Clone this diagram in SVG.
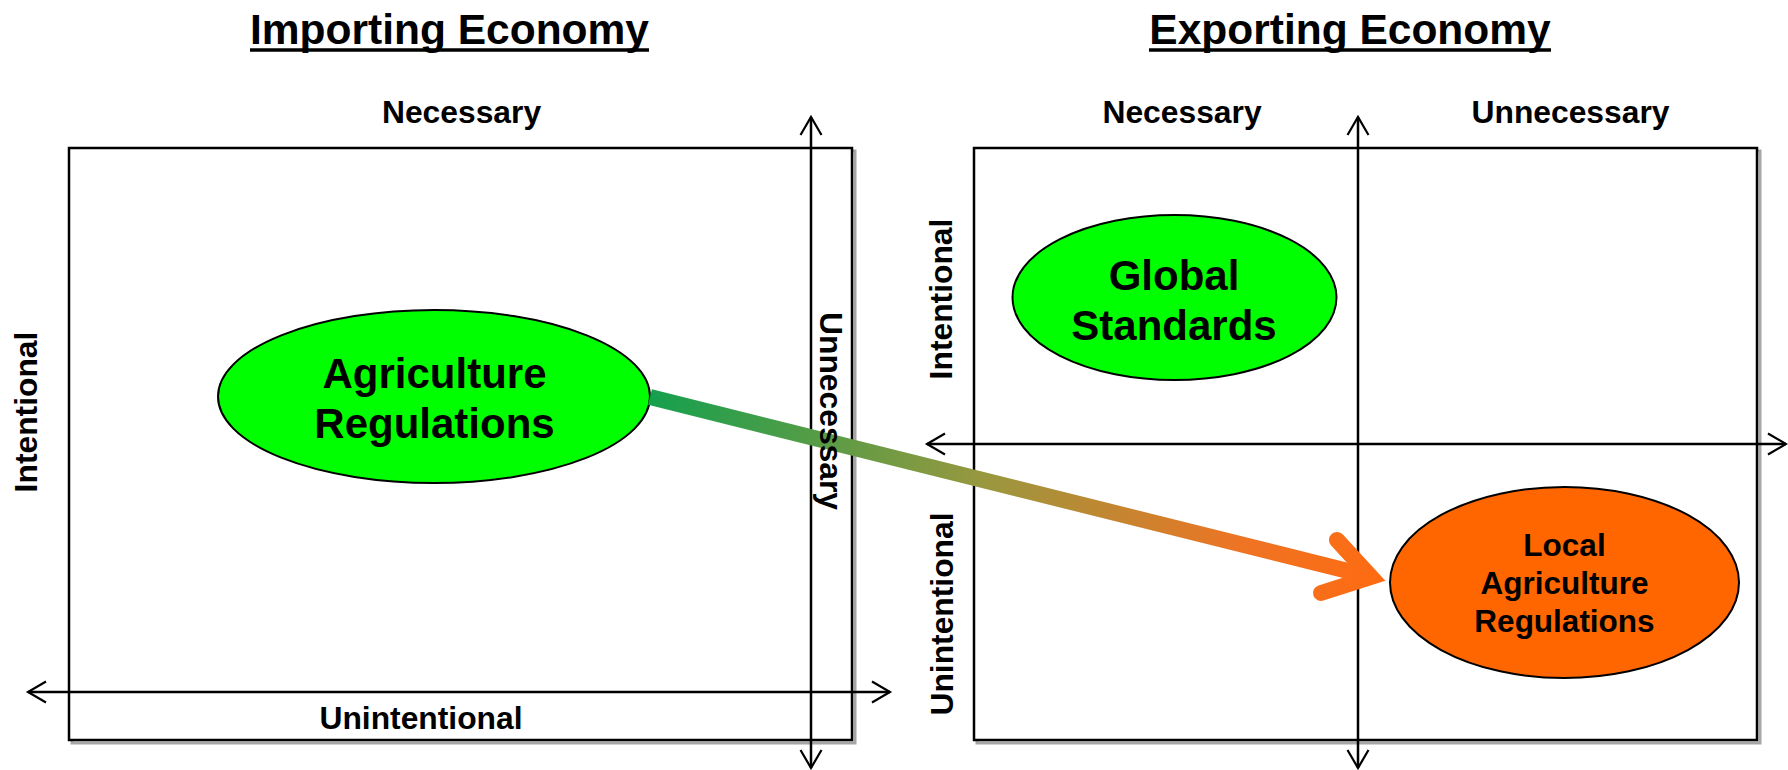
<svg xmlns="http://www.w3.org/2000/svg" width="1788" height="770" viewBox="0 0 1788 770">
<style>
  text { font-family: "Liberation Sans", Arial, sans-serif; font-weight: bold; fill: #000; }
  .title { font-size: 42.5px; }
  .uline { stroke: #000; stroke-width: 3.5; }
  .lab { font-size: 31.8px; }
  .big { font-size: 42px; }
  .small { font-size: 31.5px; }
  .frame { fill: #fff; stroke: #000; stroke-width: 2.5; }
  .shadow { fill: none; stroke: #a6a6a6; stroke-width: 3; }
  .axis { fill: none; stroke: #000; stroke-width: 2.5; marker-start: url(#ah); marker-end: url(#ah); }
  .node { stroke: #000; stroke-width: 2; }
</style>
<defs>
  <marker id="ah" markerUnits="userSpaceOnUse" markerWidth="26" markerHeight="26" refX="21" refY="13" orient="auto-start-reverse" overflow="visible">
    <path d="M3,2.5 L21,13 L3,23.5" fill="none" stroke="#000" stroke-width="2.2"/>
  </marker>
  <linearGradient id="gArrow" gradientUnits="userSpaceOnUse" x1="650" y1="397" x2="1389" y2="581">
    <stop offset="0" stop-color="#15a04e"/>
    <stop offset="0.45" stop-color="#98983f"/>
    <stop offset="0.8" stop-color="#ee7424"/>
    <stop offset="1" stop-color="#ff6a10"/>
  </linearGradient>
</defs>
<rect width="1788" height="770" fill="#fff"/>

<g id="title-importing">
  <text class="title" x="449.5" y="44" text-anchor="middle">Importing Economy</text>
  <line class="uline" x1="250" y1="50" x2="649" y2="50"/>
</g>
<g id="title-exporting">
  <text class="title" x="1350" y="44" text-anchor="middle">Exporting Economy</text>
  <line class="uline" x1="1149" y1="50" x2="1551" y2="50"/>
</g>

<g id="box-importing">
  <rect class="shadow" x="72" y="151" width="783" height="592"/>
  <rect class="frame" x="69" y="148" width="783" height="592"/>
</g>
<g id="box-exporting">
  <rect class="shadow" x="977" y="151" width="783" height="592"/>
  <rect class="frame" x="974" y="148" width="783" height="592"/>
</g>

<g id="axes">
  <line class="axis" x1="811" y1="768" x2="811" y2="117"/>
  <line class="axis" x1="28" y1="692" x2="890" y2="692"/>
  <line class="axis" x1="1358" y1="768" x2="1358" y2="117"/>
  <line class="axis" x1="927" y1="444" x2="1786" y2="444"/>
</g>

<g id="axis-labels">
  <text class="lab" x="461.5" y="123" text-anchor="middle">Necessary</text>
  <text class="lab" x="421" y="729" text-anchor="middle">Unintentional</text>
  <text class="lab" transform="translate(37,412) rotate(-90)" text-anchor="middle">Intentional</text>
  <text class="lab" x="1182" y="123" text-anchor="middle">Necessary</text>
  <text class="lab" x="1570.5" y="123" text-anchor="middle">Unnecessary</text>
  <text class="lab" transform="translate(952,299) rotate(-90)" text-anchor="middle">Intentional</text>
  <text class="lab" transform="translate(953,614) rotate(-90)" text-anchor="middle">Unintentional</text>
</g>

<g id="node-agriculture-regulations">
  <ellipse class="node" cx="434" cy="396.5" rx="216" ry="86.5" fill="#00ff00"/>
  <text class="big" x="434.5" y="388" text-anchor="middle">Agriculture</text>
  <text class="big" x="434.5" y="438" text-anchor="middle">Regulations</text>
</g>

<g id="node-global-standards">
  <ellipse class="node" cx="1174.5" cy="297.5" rx="162" ry="82.5" fill="#00ff00"/>
  <text class="big" x="1174" y="290" text-anchor="middle">Global</text>
  <text class="big" x="1174" y="340" text-anchor="middle">Standards</text>
</g>

<g id="node-local-agriculture-regulations">
  <ellipse class="node" cx="1564.5" cy="582.5" rx="174.5" ry="95.5" fill="#ff6600"/>
  <text class="small" x="1564.5" y="556" text-anchor="middle">Local</text>
  <text class="small" x="1564.5" y="594" text-anchor="middle">Agriculture</text>
  <text class="small" x="1564.5" y="632" text-anchor="middle">Regulations</text>
</g>

<g id="connectors">
  <line x1="650" y1="397" x2="1372" y2="577" stroke="url(#gArrow)" stroke-width="16"/>
  <polyline points="1337,540 1371,577 1321,593" fill="none" stroke="url(#gArrow)" stroke-width="16" stroke-linecap="round" stroke-linejoin="miter" stroke-miterlimit="10"/>
</g>

<g id="overlay-label">
  <text class="lab" transform="translate(820,411) rotate(90)" text-anchor="middle">Unnecessary</text>
</g>
</svg>
